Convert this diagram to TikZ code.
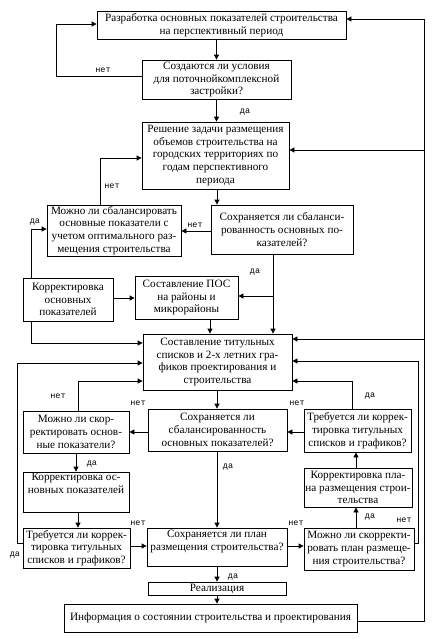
\documentclass[tikz,border=0pt]{standalone}
\usepackage{fontspec}
\setmainfont{Liberation Serif}
\newfontfamily\lblfont{Liberation Mono}
\usetikzlibrary{arrows.meta}
\begin{document}
\begin{tikzpicture}[x=1pt,y=-1pt,
  box/.style={draw,line width=0.8pt,align=center,inner sep=0.5pt,
    font=\fontsize{11.2}{12.8}\selectfont},
  arr/.style={line width=0.8pt,-{Triangle[length=5pt,width=5pt]}},
  lbl/.style={font=\lblfont\fontsize{8.5}{9}\selectfont,inner sep=0pt}]
\useasboundingbox[fill=white] (0,0) rectangle (435,641);
% boxes
\node[box,minimum width=249pt,minimum height=28pt] (b1) at (221.5,25) {Разработка основных показателей строительства\\на перспективный период};
\node[box,minimum width=149pt,minimum height=39pt] (b2) at (216.5,79.5) {Создаются ли условия\\для поточнойкомплексной\\застройки?};
\node[box,minimum width=147pt,minimum height=67pt] (b3) at (215.5,155.5) {Решение задачи размещения\\объемов строительства на\\городских территориях по\\годам перспективного\\периода};
\node[box,minimum width=134pt,minimum height=51pt] (b4) at (114,230.5) {Можно ли сбалансировать\\основные показатели с\\учетом оптимального раз-\\мещения строительства};
\node[box,minimum width=142pt,minimum height=49pt] (b5) at (282,229.5) {Сохраняется ли сбаланси-\\рованность основных по-\\казателей?};
\node[box,minimum width=90pt,minimum height=43pt] (b6) at (68,299.5) {Корректировка\\основных\\показателей};
\node[box,minimum width=103pt,minimum height=43pt] (b7) at (186.5,297.5) {Составление ПОС\\на районы и\\микрорайоны};
\node[box,minimum width=149pt,minimum height=56pt] (b8) at (217.5,362) {Составление титульных\\списков и 2-х летних гра-\\фиков проектирования и\\строительства};
\node[box,minimum width=106pt,minimum height=42pt] (b9) at (76,432) {Можно ли скор-\\ректировать основ-\\ные показатели?};
\node[box,minimum width=139pt,minimum height=42pt] (b10) at (217.5,430) {Сохраняется ли\\сбалансированность\\основных показателей?};
\node[box,minimum width=107pt,minimum height=43pt] (b11) at (357.5,430.5) {Требуется ли коррек-\\тировка титульных\\списков и графиков?};
\node[box,minimum width=106pt,minimum height=40pt] (b12) at (76,492) {Корректировка ос-\\новных показателей\\\strut};
\node[box,minimum width=108pt,minimum height=39pt] (b13) at (358,487.5) {Корректировка пла-\\на размещения строи-\\тельства};
\node[box,minimum width=107pt,minimum height=40pt] (b14) at (76.5,548) {Требуется ли коррек-\\тировка титульных\\списков и графиков?};
\node[box,minimum width=140pt,minimum height=38pt] (b15) at (217,547) {Сохраняется ли план\\размещения строительства?\\[-4pt]\strut};
\node[box,minimum width=110pt,minimum height=42pt] (b16) at (359,549) {Можно ли скорректи-\\ровать план размеще-\\ния строительства?};
\node[box,minimum width=138pt,minimum height=13pt] (b17) at (217,588.5) {Реализация};
\node[box,minimum width=293pt,minimum height=28pt] (b18) at (210.5,618) {Информация о состоянии строительства и проектирования};
% connectors
\draw[arr] (b1.south -| b2.north) -- (b2.north);
\draw[arr] (b2.south) -- (b2.south |- b3.north);
\draw[arr] (b2.west |- 0,76) -- (56,76) -- (56,24) -- (b1.west |- 0,24);
\draw[arr] (b18.east |- 0,621) -- (424,621) -- (424,19) -- (b1.east |- 0,19);
\draw[arr] (424,150) -- (b3.east |- 0,150);
\draw[arr] (424,339) -- (b8.east |- 0,339);
\draw[arr] (b3.south -| 217,0) -- (b5.north -| 217,0);
\draw[arr] (b5.west |- 0,231) -- (b4.east |- 0,231);
\draw[arr] (b4.north -| 100,0) -- (100,158) -- (b3.west |- 0,158);
\draw[arr] (b6.north -| 31,0) -- (31,229) -- (b4.west |- 0,229);
\draw[arr] (b6.east |- 0,298) -- (b7.west |- 0,298);
\draw[arr] (b5.south -| 273,0) -- (b8.north -| 273,0);
\draw[arr] (273,296) -- (b7.east |- 0,296);
\draw[arr] (b7.south -| 210,0) -- (b8.north -| 210,0);
\draw[arr] (b6.south -| 31,0) -- (31,343) -- (b8.west |- 0,343);
\draw[arr] (b8.south -| 217,0) -- (b10.north -| 217,0);
\draw[arr] (b10.west |- 0,432) -- (b9.east |- 0,432);
\draw[arr] (b11.west |- 0,432) -- (b10.east |- 0,432);
\draw[arr] (b9.north -| 78,0) -- (78,381) -- (b8.west |- 0,381);
\draw[arr] (b11.north -| 352,0) -- (352,381) -- (b8.east |- 0,381);
\draw[arr] (b9.south -| 76,0) -- (b12.north -| 76,0);
\draw[arr] (b12.south -| 78,0) -- (b14.north -| 78,0);
\draw[arr] (b14.west |- 0,543) -- (17,543) -- (17,363) -- (b8.west |- 0,363);
\draw[arr] (b14.east |- 0,546) -- (b15.west |- 0,546);
\draw[arr] (b15.east |- 0,546) -- (b16.west |- 0,546);
\draw[arr] (b16.east |- 0,543) -- (418,543) -- (418,361) -- (b8.east |- 0,361);
\draw[arr] (b16.north -| 356,0) -- (b13.south -| 356,0);
\draw[arr] (b13.north -| 356,0) -- (b11.south -| 356,0);
\draw[arr] (b10.south -| 217,0) -- (b15.north -| 217,0);
\draw[arr] (b15.south -| 217,0) -- (b17.north -| 217,0);
\draw[arr] (b17.south -| 217,0) -- (b18.north -| 217,0);
% labels
\node[lbl] (l1) at (103,70) {нет};
\node[lbl] (l2) at (245,112) {да};
\node[lbl] (l3) at (112,186) {нет};
\node[lbl] (l4) at (195,225) {нет};
\node[lbl] (l5) at (35,222) {да};
\node[lbl] (l6) at (255,272) {да};
\node[lbl] (l7) at (58,396) {нет};
\node[lbl] (l8) at (138,403) {нет};
\node[lbl] (l9) at (297,403) {нет};
\node[lbl] (l10) at (370,396) {да};
\node[lbl] (l11) at (92,464) {да};
\node[lbl] (l12) at (228,467) {да};
\node[lbl] (l13) at (370,517) {да};
\node[lbl] (l14) at (404,520) {нет};
\node[lbl] (l15) at (138,523) {нет};
\node[lbl] (l16) at (296,523) {нет};
\node[lbl] (l17) at (15,555) {да};
\node[lbl] (l18) at (233,577) {да};
\end{tikzpicture}
\end{document}
